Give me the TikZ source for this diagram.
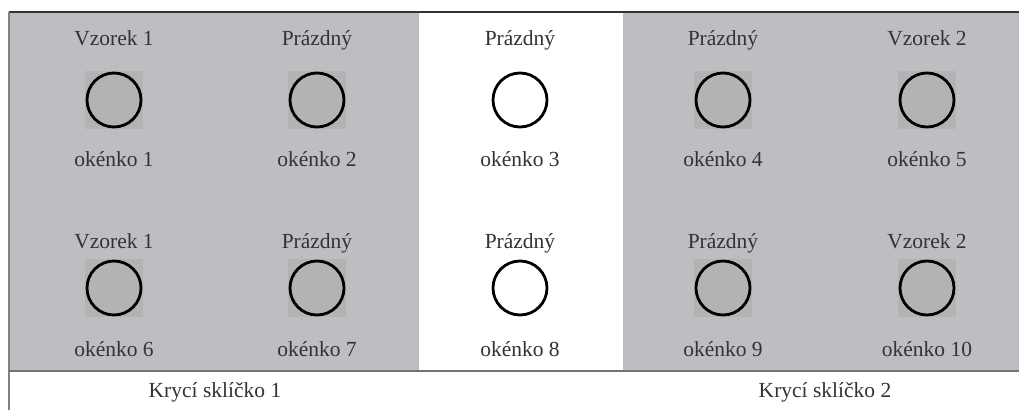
\documentclass[tikz,border=0pt]{standalone}
\usepackage{fontspec}
\setmainfont{Liberation Serif}
\definecolor{bg}{HTML}{BDBEC2}
\definecolor{sq}{HTML}{B3B3B3}
\definecolor{txt}{HTML}{333333}
\begin{document}
\begin{tikzpicture}[x=1pt,y=-1pt,
  lbl/.style={text=txt,font=\fontsize{21.5}{25}\selectfont,inner sep=0pt,anchor=base},
  sqbox/.style={fill=#1,minimum size=58pt,inner sep=0pt,draw=none},
  well/.style={circle,draw=black,line width=2.8pt,fill=#1,minimum size=54pt,inner sep=0pt}]
\useasboundingbox (0,0) rectangle (1019,410);
\fill[white] (0,0) rectangle (1019,410);
% gray panels
\fill[bg] (9,12) rectangle (419,370);
\fill[bg] (623,12) rectangle (1019,370);
% borders
\draw[line width=1.5pt,color=txt] (9,12) -- (1019,12);
\draw[line width=1.2pt,color=gray] (9,12) -- (9,410);
\draw[line width=2pt,color=gray!90!black] (9,370.5) -- (1019,370.5);
% wells
\foreach \i/\x/\y/\f in {1/114/100/sq,2/317/100/sq,3/520/100/white,4/723/100/sq,5/927/100/sq,
  6/114/288/sq,7/317/288/sq,8/520/288/white,9/723/288/sq,10/927/288/sq}{
  \node[sqbox=\f] (s\i) at (\x,\y) {};
  \node[well=\f] (w\i) at (\x,\y) {};
}
\foreach \i/\x in {1/114,2/317,3/520,4/723,5/927}{
  \node[lbl] (t\i) at (\x,45) {\ifnum\i<5 \ifnum\i=1 Vzorek 1\else Prázdný\fi\else Vzorek 2\fi};
  \node[lbl] (o\i) at (\x,166) {okénko \i};
}
\foreach \i/\x in {6/114,7/317,8/520,9/723,10/927}{
  \node[lbl] (t\i) at (\x,248) {\ifnum\i<10 \ifnum\i=6 Vzorek 1\else Prázdný\fi\else Vzorek 2\fi};
  \node[lbl] (o\i) at (\x,356) {okénko \i};
}
\node[lbl] (k1) at (215,397) {Krycí sklíčko 1};
\node[lbl] (k2) at (825,397) {Krycí sklíčko 2};
\end{tikzpicture}
\end{document}
